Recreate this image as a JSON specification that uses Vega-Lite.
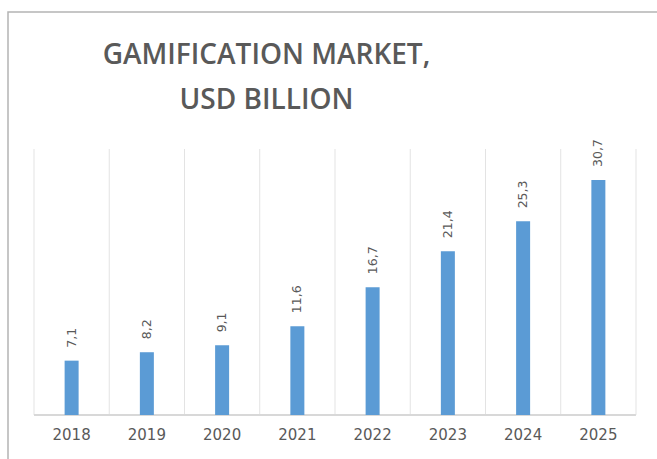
{
  "$schema": "https://vega.github.io/schema/vega-lite/v6.json",
  "autosize": {"type": "none"},
  "padding": {"left": 8, "top": 12, "right": 0, "bottom": 0},
  "width": 649,
  "height": 447,
  "background": "#ffffff",
  "config": {
    "view": {"stroke": "#b4b4b4", "strokeWidth": 1.5, "strokeDash": [649, 1096, 447, 2000]},
    "locale": {"number": {"decimal": ",", "thousands": ".", "grouping": [3], "currency": ["", " €"]}},
    "font": "Open Sans"
  },
  "title": {
    "text": ["GAMIFICATION MARKET,", "USD BILLION"],
    "frame": "group",
    "anchor": "middle",
    "baseline": "alphabetic",
    "offset": -125,
    "dx": -66,
    "fontSize": 28,
    "fontWeight": 600,
    "font": "Open Sans",
    "color": "#595959",
    "lineHeight": 45
  },
  "data": {
    "values": [
      {"year": "2018", "value": 7.1},
      {"year": "2019", "value": 8.2},
      {"year": "2020", "value": 9.1},
      {"year": "2021", "value": 11.6},
      {"year": "2022", "value": 16.7},
      {"year": "2023", "value": 21.4},
      {"year": "2024", "value": 25.3},
      {"year": "2025", "value": 30.7}
    ]
  },
  "encoding": {
    "x": {
      "field": "year",
      "type": "ordinal",
      "scale": {"paddingInner": 0, "paddingOuter": 0.3123, "align": 0.553},
      "axis": {
        "title": null,
        "orient": "bottom",
        "offset": -44,
        "domain": false,
        "ticks": false,
        "grid": false,
        "labelAngle": 0,
        "labelPadding": 12,
        "labelFontSize": 15,
        "labelFont": "DejaVu Sans",
        "labelColor": "#595959"
      }
    }
  },
  "layer": [
    {
      "mark": {"type": "rule", "color": "#e3e3e3", "strokeWidth": 1},
      "encoding": {
        "x": {"field": "year", "type": "ordinal", "bandPosition": 0},
        "y": {"datum": 0, "type": "quantitative", "scale": {"domain": [-5.75, 52.65], "nice": false, "zero": false}, "axis": null},
        "y2": {"datum": 34.75}
      }
    },
    {
      "transform": [{"filter": "datum.year == '2025'"}],
      "mark": {"type": "rule", "color": "#e3e3e3", "strokeWidth": 1},
      "encoding": {
        "x": {"field": "year", "type": "ordinal", "bandPosition": 1},
        "y": {"datum": 0, "type": "quantitative"},
        "y2": {"datum": 34.75}
      }
    },
    {
      "mark": {"type": "rule", "color": "#d9d9d9", "strokeWidth": 1},
      "encoding": {
        "x": {"datum": "2018", "type": "ordinal", "bandPosition": 0},
        "x2": {"datum": "2025", "bandPosition": 1},
        "y": {"datum": 0, "type": "quantitative"}
      }
    },
    {
      "mark": {"type": "bar", "color": "#5b9bd5", "size": 14},
      "encoding": {
        "y": {"field": "value", "type": "quantitative"}
      }
    },
    {
      "mark": {"type": "text", "angle": 270, "align": "left", "baseline": "middle", "dx": 13, "fontSize": 12.5, "font": "DejaVu Sans", "color": "#595959"},
      "encoding": {
        "y": {"field": "value", "type": "quantitative"},
        "text": {"field": "value", "type": "quantitative", "format": ".1f"}
      }
    }
  ]
}
